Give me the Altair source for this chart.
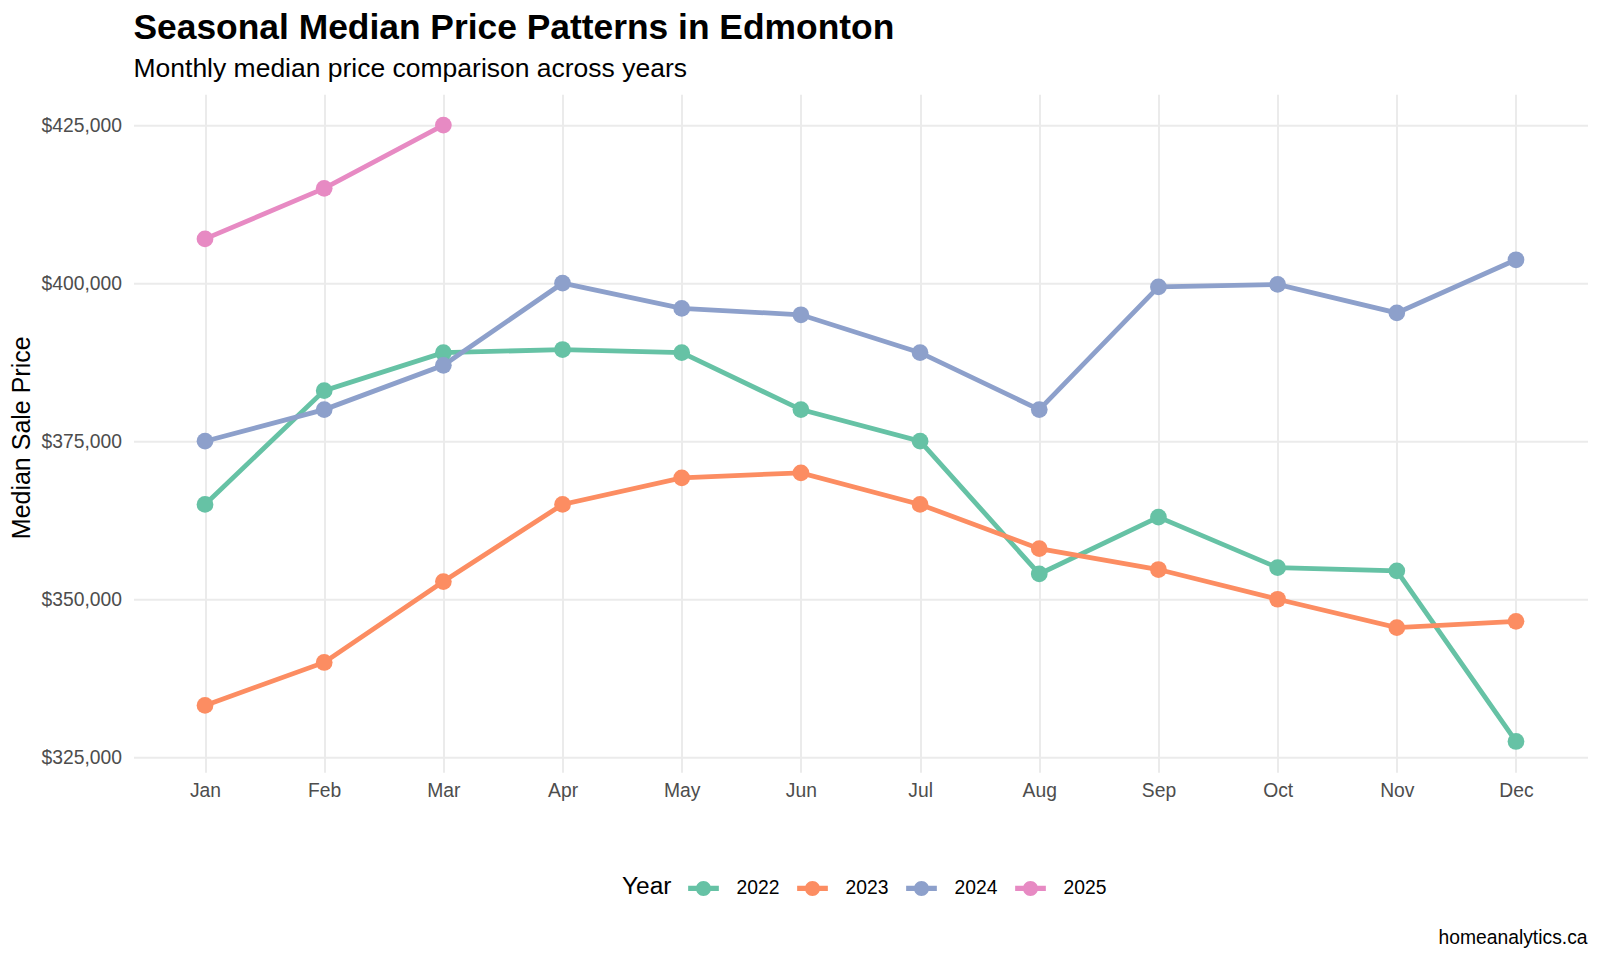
import altair as alt
import pandas as pd

months = ["Jan", "Feb", "Mar", "Apr", "May", "Jun", "Jul", "Aug", "Sep", "Oct", "Nov", "Dec"]
years = ["2022", "2023", "2024", "2025"]
price_2022 = [365000, 383000, 389000, 389500, 389000, 380000, 375000, 354000, 363000, 355000, 354500, 327500]
price_2023 = [333200, 340000, 352800, 365000, 369200, 370000, 365000, 358000, 354700, 350000, 345500, 346500]
price_2024 = [375000, 380000, 387000, 400000, 396000, 395000, 389000, 380000, 399400, 399800, 395300, 403700]
price_2025 = [407000, 415000, 425000]
colors = ["#66c2a5", "#fc8d62", "#8da0cb", "#e78ac3"]
y_ticks = [325000, 350000, 375000, 400000, 425000]
caption = ["homeanalytics.ca"]

rows = []
for yr, series in zip(years, [price_2022, price_2023, price_2024, price_2025]):
    for m, v in zip(months, series):
        rows.append({"Month": m, "Year": yr, "Price": v})
df = pd.DataFrame(rows)

FONT = "Liberation Sans"
W, H = 1454, 678

x_enc = alt.X("Month:O", sort=months,
              scale=alt.Scale(type="point", padding=0.6, domain=months),
              axis=alt.Axis(title=None, ticks=False, domain=False, labelAngle=0, grid=True,
                            labelFontSize=19.3, labelColor="#4d4d4d", labelPadding=9,
                            gridColor="#ebebeb", gridWidth=2))
y_enc = alt.Y("Price:Q",
              scale=alt.Scale(domain=[322625, 429875], nice=False, zero=False),
              axis=alt.Axis(title="Median Sale Price", values=y_ticks, format="$,.0f",
                            ticks=False, domain=False, labelFontSize=19.3, grid=True,
                            labelColor="#4d4d4d", labelPadding=12,
                            titleFontSize=25, titleFontWeight="normal", titleColor="black",
                            titleAngle=-90, titleX=-104.5, titleY=343,
                            titleBaseline="alphabetic", titleAlign="center",
                            gridColor="#ebebeb", gridWidth=2))
color_scale = alt.Scale(domain=years, range=colors)

sym_path = ("M-1.228,-0.208H-0.56V0.208H-1.228Z M0.56,-0.208H1.228V0.208H0.56Z "
            "M-0.6,0A0.6,0.6 0 1,1 0.6,0A0.6,0.6 0 1,1 -0.6,0Z")
legend = alt.Legend(title="Year", orient="none", direction="horizontal",
                    legendX=488.5, legendY=781.5,
                    titleOrient="left", titleFontSize=24.5,
                    titleFontWeight="normal", titleColor="black",
                    titlePadding=19, labelFontSize=19.3, labelColor="black",
                    symbolType=sym_path, symbolSize=625,
                    symbolStrokeWidth=0, labelOffset=20.5,
                    columnPadding=17)
color_enc = alt.Color("Year:N", scale=color_scale, legend=legend)

base = alt.Chart(df)
lines = base.mark_line(strokeWidth=4.8).encode(
    x=x_enc, y=y_enc, color=color_enc, detail="Year:N",
)
points = base.mark_point(filled=True, size=280, opacity=1).encode(
    x=x_enc, y=y_enc, color=color_enc,
)
cap = alt.Chart(pd.DataFrame({"t": caption})).mark_text(
    align="right", baseline="alphabetic", fontSize=19.3, color="black", font=FONT
).encode(text="t:N", x=alt.value(W), y=alt.value(850))

chart = alt.layer(lines, points, cap).properties(
    width=W, height=H,
    autosize=alt.AutoSizeParams(type="none"),
    padding={"left": 125.5, "top": 86.3, "right": 4, "bottom": 178},
    title=alt.TitleParams(text="Seasonal Median Price Patterns in Edmonton",
                          subtitle="Monthly median price comparison across years",
                          anchor="start", frame="group", fontSize=35.4, fontWeight="bold",
                          color="black", subtitleFontSize=26.5, subtitleColor="black",
                          subtitleFont=FONT, font=FONT, offset=11.5, subtitlePadding=9.5),
).configure(font=FONT).configure_view(stroke=None)

chart.save("out.html", embed_options={"renderer": "svg", "actions": False})
